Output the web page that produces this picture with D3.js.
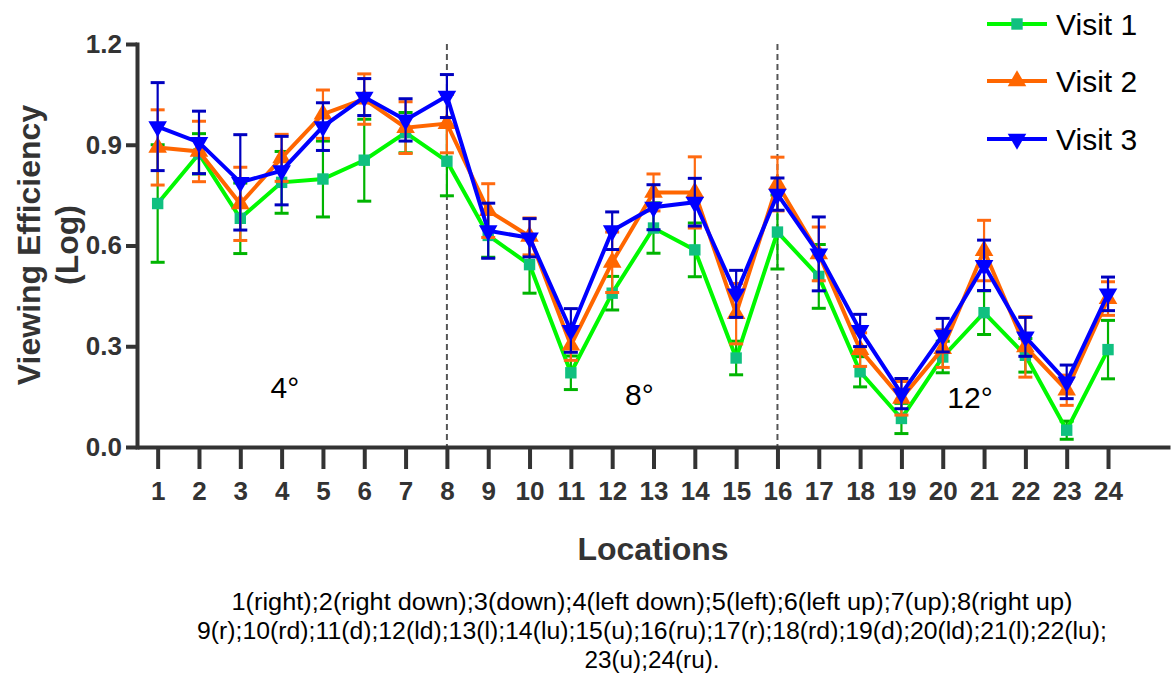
<!DOCTYPE html>
<html>
<head>
<meta charset="utf-8">
<script src="https://cdn.jsdelivr.net/npm/d3@7"></script>
<style>
html,body{margin:0;padding:0;background:#fff;}
svg{display:block;font-family:"Liberation Sans",Arial,sans-serif;}
</style>
</head>
<body>
<svg id="chart" width="1174" height="681"></svg>
<script>
const locations = d3.range(1, 25);
const visit1 = [0.725,0.873,0.681,0.788,0.798,0.854,0.936,0.851,0.630,0.543,0.221,0.458,0.652,0.587,0.265,0.640,0.508,0.224,0.085,0.268,0.400,0.273,0.050,0.290];
const visit1Err = [0.175,0.060,0.105,0.092,0.113,0.122,0.060,0.103,0.065,0.085,0.050,0.050,0.075,0.080,0.050,0.110,0.095,0.045,0.045,0.047,0.065,0.050,0.027,0.087];
const visit2 = [0.892,0.880,0.724,0.861,0.991,1.036,0.951,0.963,0.704,0.627,0.303,0.550,0.758,0.758,0.397,0.783,0.575,0.290,0.145,0.293,0.585,0.298,0.169,0.442];
const visit2Err = [0.112,0.090,0.109,0.070,0.072,0.075,0.077,0.087,0.080,0.055,0.045,0.090,0.055,0.106,0.090,0.080,0.080,0.050,0.050,0.056,0.090,0.090,0.045,0.050];
const visit3 = [0.954,0.907,0.788,0.823,0.954,1.042,0.974,1.045,0.644,0.623,0.347,0.644,0.714,0.729,0.456,0.753,0.575,0.347,0.159,0.333,0.541,0.328,0.194,0.456];
const visit3Err = [0.131,0.093,0.142,0.102,0.071,0.055,0.063,0.064,0.082,0.057,0.065,0.056,0.067,0.071,0.070,0.048,0.110,0.048,0.045,0.050,0.075,0.058,0.050,0.050];
const seriesNames = ["Visit 1","Visit 2","Visit 3"];
const yTicks = [0, 0.3, 0.6, 0.9, 1.2];
const dividers = [8, 16];
const regionLabels = ["4°", "8°", "12°"];
const regionLabelX = [4.08, 12.66, 20.66];
const regionLabelY = [0.146, 0.125, 0.116];
const captionLines = [
  "1(right);2(right down);3(down);4(left down);5(left);6(left up);7(up);8(right up)",
  "9(r);10(rd);11(d);12(ld);13(l);14(lu);15(u);16(ru);17(r);18(rd);19(d);20(ld);21(l);22(lu);",
  "23(u);24(ru)."
];

const styles = [
  {line:"#00f800", marker:"#10c080", err:"#00b400", shape:"square"},
  {line:"#ff6600", marker:"#ff6600", err:"#ff6a10", shape:"up"},
  {line:"#0000ff", marker:"#0000ff", err:"#0000c0", shape:"down"}
];
const errs = [visit1Err, visit2Err, visit3Err];
const series = [visit1, visit2, visit3].map((vals, i) => ({
  name: seriesNames[i],
  pts: vals.map((v, j) => ({x: locations[j], y: v, e: errs[i][j]})),
  st: styles[i]
}));

const svg = d3.select("#chart");
const x = d3.scaleLinear().domain([0.5, 25.5]).range([137, 1170]);
const y = d3.scaleLinear().domain([0, 1.2]).range([447, 44]);
const axisColor = "#333";

// dividers
svg.append("g").selectAll("line").data(dividers).join("line")
  .attr("x1", d => x(d)).attr("x2", d => x(d))
  .attr("y1", y(1.2)).attr("y2", y(0))
  .attr("stroke", "#555").attr("stroke-width", 2).attr("stroke-dasharray", "6,4");

// x axis
const gx = svg.append("g").attr("transform", `translate(0,${y(0)})`)
  .call(d3.axisBottom(x).tickValues(locations).tickSize(22).tickSizeOuter(0).tickPadding(13));
gx.select(".domain").attr("stroke", axisColor).attr("stroke-width", 4);
gx.selectAll(".tick line").attr("stroke", axisColor).attr("stroke-width", 4);
gx.selectAll(".tick text").attr("fill", axisColor).attr("font-size", 26).attr("font-weight", "bold")
  .attr("font-family", '"Liberation Sans",Arial,sans-serif');

// y axis
const gy = svg.append("g").attr("transform", `translate(${x(0.5)},0)`)
  .call(d3.axisLeft(y).tickValues(yTicks).tickSize(11).tickSizeOuter(0).tickPadding(4).tickFormat(d3.format(".1f")));
gy.select(".domain").attr("stroke", axisColor).attr("stroke-width", 4).attr("stroke-linecap", "square");
gy.selectAll(".tick line").attr("stroke", axisColor).attr("stroke-width", 4);
gy.selectAll(".tick text").attr("fill", axisColor).attr("font-size", 26).attr("font-weight", "bold")
  .attr("font-family", '"Liberation Sans",Arial,sans-serif');

// series
function markerPath(shape) {
  if (shape === "square") return d3.symbol().type(d3.symbolSquare).size(130)();
  return d3.symbol().type(d3.symbolTriangle).size(150)();
}
const line = d3.line().x(d => x(d.x)).y(d => y(d.y));
series.forEach(s => {
  const g = svg.append("g");
  const eb = g.append("g").selectAll("g").data(s.pts).join("g");
  eb.append("line").attr("x1", d => x(d.x)).attr("x2", d => x(d.x))
    .attr("y1", d => y(d.y + d.e)).attr("y2", d => y(d.y - d.e))
    .attr("stroke", s.st.err).attr("stroke-width", 2.2);
  [1, -1].forEach(sg => {
    eb.append("line").attr("x1", d => x(d.x) - 7).attr("x2", d => x(d.x) + 7)
      .attr("y1", d => y(d.y + sg * d.e)).attr("y2", d => y(d.y + sg * d.e))
      .attr("stroke", s.st.err).attr("stroke-width", 3);
  });
  g.append("path").datum(s.pts).attr("d", line).attr("fill", "none")
    .attr("stroke", s.st.line).attr("stroke-width", 4).attr("stroke-linejoin", "miter");
  g.append("g").selectAll("path").data(s.pts).join("path")
    .attr("d", markerPath(s.st.shape))
    .attr("transform", d => `translate(${x(d.x)},${y(d.y)})${s.st.shape === "down" ? " rotate(180)" : ""}`)
    .attr("fill", s.st.marker);
});

// region labels
svg.append("g").selectAll("text").data(regionLabels).join("text")
  .attr("x", (d, i) => x(regionLabelX[i])).attr("y", (d, i) => y(regionLabelY[i]))
  .attr("text-anchor", "middle").attr("font-size", 30).attr("fill", "#000")
  .text(d => d);

// axis titles
svg.append("text").attr("x", 653).attr("y", 560).attr("text-anchor", "middle")
  .attr("font-size", 32).attr("font-weight", "bold").attr("fill", axisColor).text("Locations");
const yt = svg.append("text").attr("transform", "translate(0,245) rotate(-90)")
  .attr("text-anchor", "middle").attr("font-size", 32).attr("font-weight", "bold").attr("fill", axisColor);
yt.append("tspan").attr("x", 0).attr("y", 40).text("Viewing Efficiency");
yt.append("tspan").attr("x", 0).attr("y", 78).text("(Log)");

// legend
const leg = svg.append("g").selectAll("g").data(series).join("g")
  .attr("transform", (d, i) => `translate(987,${[24, 81, 139][i]})`);
leg.append("line").attr("x1", 0).attr("x2", 60).attr("stroke", d => d.st.line).attr("stroke-width", 4);
leg.append("path").attr("d", d => markerPath(d.st.shape))
  .attr("transform", d => `translate(30,0)${d.st.shape === "down" ? " rotate(180)" : ""}`)
  .attr("fill", d => d.st.marker);
leg.append("text").attr("x", 69).attr("y", 11).attr("font-size", 30).attr("fill", "#000").text(d => d.name);

// caption
const capW = [841, 910, 135];
svg.append("g").selectAll("text").data(captionLines).join("text")
  .attr("x", 652).attr("y", (d, i) => 610 + i * 29)
  .attr("text-anchor", "middle").attr("font-size", 23).attr("fill", "#000")
  .attr("textLength", (d, i) => capW[i]).attr("lengthAdjust", "spacingAndGlyphs")
  .text(d => d);
</script>
</body>
</html>
